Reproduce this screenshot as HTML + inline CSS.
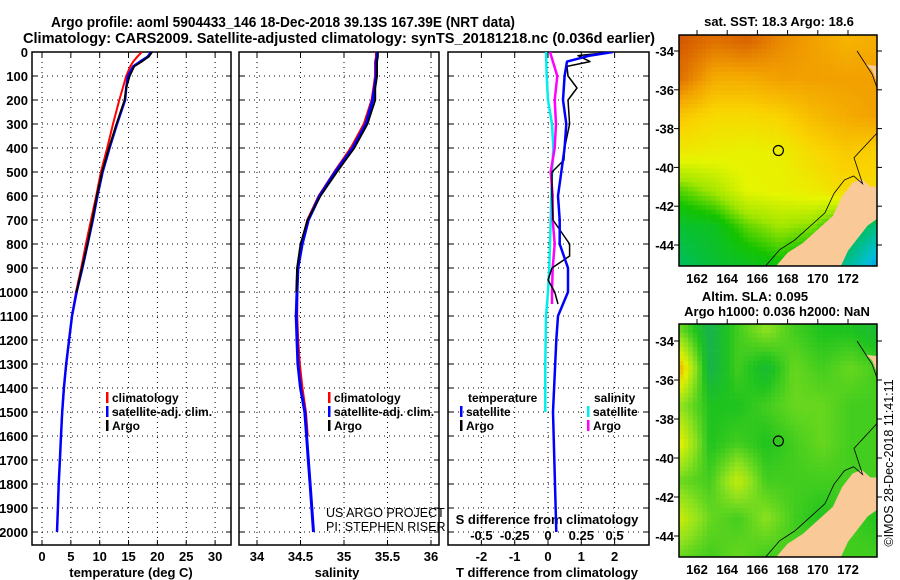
<!DOCTYPE html>
<html><head><meta charset="utf-8"><style>
html,body{margin:0;padding:0;background:#fff}
svg{display:block;font-family:"Liberation Sans",sans-serif;font-weight:bold}
</style></head><body>
<svg id="c" width="900" height="580" viewBox="0 0 900 580" xmlns="http://www.w3.org/2000/svg">
<defs>
<clipPath id="cp1"><rect x="32" y="52" width="199" height="493"/></clipPath>
<clipPath id="cp2"><rect x="239" y="52" width="200" height="493"/></clipPath>
<clipPath id="cp3"><rect x="448" y="52" width="201" height="493"/></clipPath>
<clipPath id="cm1"><rect x="679" y="35" width="198" height="231"/></clipPath>
<clipPath id="cm2"><rect x="679" y="324" width="198" height="233"/></clipPath>
</defs>
<text x="51" y="27" font-size="15" textLength="464" lengthAdjust="spacingAndGlyphs">Argo profile: aoml 5904433_146 18-Dec-2018 39.13S 167.39E (NRT data)</text>
<text x="23" y="43" font-size="15" textLength="632" lengthAdjust="spacingAndGlyphs">Climatology: CARS2009. Satellite-adjusted climatology: synTS_20181218.nc (0.036d earlier)</text>
<g id="g"></g>
</svg>
<script>
// ---------- data ----------
const depthT = [0,20,40,60,100,150,200,300,400,500,600,700,800,900,1000,1100,1200,1300,1400,1500,1600,1700,1800,1900,2000];
const tempClim = [17.3,16.5,15.8,15.3,14.6,14.0,13.4,12.3,11.3,10.2,9.4,8.5,7.6,6.8,5.9,5.2,4.7,4.2,3.8,3.5,3.3];
const tempSat = [18.9,18.3,17.0,15.8,14.9,14.6,14.4,13.0,11.7,10.5,9.6,8.8,7.9,7.0,6.0,5.2,4.7,4.2,3.8,3.5,3.3,3.1,2.9,2.75,2.6];
const tempArgo = [19.1,18.5,17.3,16.0,15.2,14.6,14.3,12.9,11.6,10.4,9.5,8.7,7.9,6.9,6.0];
const salClim = [35.37,35.37,35.36,35.36,35.36,35.34,35.32,35.23,35.08,34.89,34.71,34.58,34.51,34.47,34.46,34.46,34.47,34.49,34.52,34.56,34.58];
const salSat = [35.38,35.38,35.37,35.37,35.37,35.35,35.33,35.25,35.1,34.9,34.72,34.59,34.52,34.47,34.46,34.45,34.46,34.47,34.5,34.55,34.57,34.59,34.61,34.63,34.65];
const salArgo = [35.39,35.39,35.38,35.38,35.38,35.36,35.36,35.27,35.12,34.92,34.73,34.58,34.5,34.46,34.45];
const depthDT = [0,15,40,60,100,150,200,300,400,450,500,600,700,800,850,900,950,1000,1050];
const dTArgo = [1.95,0.9,1.26,0.57,0.6,0.87,0.6,0.65,0.5,0.48,0.12,0.12,0.15,0.65,0.65,0.12,0,0.2,0.3];
const depthDTS = [0,15,40,100,200,300,400,500,600,700,800,900,1000,1100,1200,1500,2000];
const dTSat = [1.95,1.26,0.57,0.5,0.45,0.55,0.5,0.4,0.3,0.35,0.35,0.6,0.6,0.3,0.25,0.15,0.25];
const depthDS = [0,100,200,300,400,500,600,700,800,900,1000,1050];
const dSArgo = [0.015,0.07,0.05,0.06,0.05,0.02,0.035,0.035,0.05,0.035,0.03,0.03];
const depthDSS = [0,100,200,300,400,500,600,700,800,900,1000,1100,1300,1500];
const dSSat = [-0.015,-0.01,0,0.03,0.04,0.03,0.025,0.02,0.015,0.01,0,-0.015,-0.02,-0.02];
const depthTicks = [0,100,200,300,400,500,600,700,800,900,1000,1100,1200,1300,1400,1500,1600,1700,1800,1900,2000];
const tTicks = [0,5,10,15,20,25,30];
const sTicks = [34,34.5,35,35.5,36];
const dTTicks = [-2,-1,0,1,2];
const dSTicks = [-0.5,-0.25,0,0.25,0.5];
const lonTicks = [162,164,166,168,170,172];
const latTicks = [-34,-36,-38,-40,-42,-44];
const sstGrid = [
 [.9,.85,.88,.8,.75,.7,.72],
 [.85,.72,.72,.75,.75,.75,.75],
 [.65,.6,.6,.62,.68,.72,.75],
 [.55,.54,.53,.54,.6,.64,.62],
 [.4,.45,.52,.53,.55,.6,.6],
 [.3,.32,.4,.44,.42,.3,.2],
 [.25,.3,.32,.35,.3,.2,.08]];
const slaGrid = [
 [.55,.35,.5,.6,.5,.45,.45,.4],
 [.85,.35,.5,.4,.55,.5,.55,.5],
 [.6,.45,.45,.5,.55,.55,.5,.5],
 [.75,.45,.5,.45,.5,.55,.5,.5],
 [.55,.5,.7,.5,.5,.5,.5,.5],
 [.7,.55,.5,.6,.5,.45,.5,.45],
 [.55,.5,.55,.5,.5,.5,.5,.5]];
const landLon = [167.0,168,169,170,171,171.6,172.3,172.9,173.5,174.2,174.2,173.3,172.5,172,171.4];
const landLat = [-45.3,-44.4,-43.9,-43.2,-42.5,-41.5,-40.8,-40.6,-41,-41,-42.5,-43,-43.8,-44.3,-45.3];
const nLandLon = [173.2,173.6,173.9,174.2,174.2];
const nLandLat = [-34.7,-35.0,-35.6,-36.2,-34.8];
const floatLon = 167.39, floatLat = -39.13;

// ---------- helpers ----------
const NS='http://www.w3.org/2000/svg';
const G=document.getElementById('g');
function mk(tag,attrs,parent){const e=document.createElementNS(NS,tag);for(const k in attrs)e.setAttribute(k,attrs[k]);(parent||G).appendChild(e);return e;}
function txt(s,x,y,size,anchor,parent){const e=mk('text',{x:x,y:y,'font-size':size,'text-anchor':anchor||'start'},parent);e.textContent=s;return e;}
const Y0=52, PY=0.24;
const yD=d=>Y0+d*PY;
const xT=v=>42+v*5.77;
const xS=v=>257+(v-34)*87;
const xDT=v=>548+v*33.3;
const xDS=v=>548+v*133.2;

function panel(x0,w,name,xf,ticks,clip){
  const g=mk('g',{});
  
  
  ticks.forEach(t=>{const l=mk('line',{x1:xf(t),x2:xf(t),y1:52,y2:545,stroke:'#000','stroke-width':1,'stroke-dasharray':'1,4'},g);
    
    mk('line',{x1:xf(t),x2:xf(t),y1:545,y2:540,stroke:'#000'},g);mk('line',{x1:xf(t),x2:xf(t),y1:52,y2:57,stroke:'#000'},g);});
  depthTicks.forEach(d=>{const l=mk('line',{x1:x0,x2:x0+w,y1:yD(d),y2:yD(d),stroke:'#000','stroke-width':1,'stroke-dasharray':'1,4'},g);
    
    mk('line',{x1:x0,x2:x0+5,y1:yD(d),y2:yD(d),stroke:'#000'},g);mk('line',{x1:x0+w-5,x2:x0+w,y1:yD(d),y2:yD(d),stroke:'#000'},g);});
  const r=mk('rect',{x:x0,y:52,width:w,height:493,fill:'none',stroke:'#000','stroke-width':1.5},g);
  
  return g;
}
function line(vals,depths,xf,color,width,clip,name){
  const pts=vals.map((v,i)=>xf(v).toFixed(1)+','+yD(depths[i]).toFixed(1)).join(' ');
  const p=mk('polyline',{points:pts,fill:'none',stroke:color,'stroke-width':width,'clip-path':'url(#'+clip+')','stroke-linejoin':'round'});
  
  
}
function legendEntry(x,y,color,label,name){
  const g=mk('g',{});
  
  
  mk('rect',{x:x,y:y-10,width:2.5,height:11,fill:color},g);
  txt(label,x+6,y,12,'start',g);
}

depthTicks.forEach(d=>{const t=txt(String(d),28,yD(d)+5,13,'end');});

// panel 1
panel(32,199,'temperature-panel',xT,tTicks,'cp1');
tTicks.forEach(t=>{const e=txt(String(t),xT(t),561,13,'middle');});
{const e=txt('temperature (deg C)',131,577,13,'middle');}
line(tempClim,depthT,xT,'#ff0000',2,'cp1','temp-climatology-line');
line(tempSat,depthT,xT,'#0000ff',2.5,'cp1','temp-satellite-line');
line(tempArgo,depthT,xT,'#000000',1.8,'cp1','temp-argo-line');
legendEntry(106,402,'#ff0000','climatology','temp-legend-climatology');
legendEntry(106,416,'#0000ff','satellite-adj. clim.','temp-legend-satellite');
legendEntry(106,430,'#000000','Argo','temp-legend-argo');

// panel 2
panel(239,200,'salinity-panel',xS,sTicks,'cp2');
sTicks.forEach(t=>{const e=txt(String(t),xS(t),561,13,'middle');});
{const e=txt('salinity',337,577,13,'middle');}
line(salClim,depthT,xS,'#ff0000',2.5,'cp2','sal-climatology-line');
line(salSat,depthT,xS,'#0000ff',3,'cp2','sal-satellite-line');
line(salArgo,depthT,xS,'#000000',1.8,'cp2','sal-argo-line');
legendEntry(328,402,'#ff0000','climatology','sal-legend-climatology');
legendEntry(328,416,'#0000ff','satellite-adj. clim.','sal-legend-satellite');
legendEntry(328,430,'#000000','Argo','sal-legend-argo');
{const a=txt('US ARGO PROJECT',326,517,12.5,'start');a.setAttribute('font-weight','normal');
 const b=txt('PI: STEPHEN RISER',326,531,12.5,'start');b.setAttribute('font-weight','normal');}

// panel 3
panel(448,201,'difference-panel',xDT,dTTicks,'cp3');
dTTicks.forEach(t=>{const e=txt(String(t),xDT(t),561,13,'middle');});
dSTicks.forEach(t=>{const e=txt(String(t),xDS(t),540,13,'middle');});
{const e=txt('S difference from climatology',547,524,13,'middle');}
{const e=txt('T difference from climatology',547,577,13,'middle');}
line(dSSat,depthDSS,xDS,'#00eeee',2.5,'cp3','s-diff-satellite-line');
line(dSArgo,depthDS,xDS,'#ff00ff',2.5,'cp3','s-diff-argo-line');
line(dTArgo,depthDT,xDT,'#000000',1.5,'cp3','t-diff-argo-line');
line(dTSat,depthDTS,xDT,'#0000ff',2.5,'cp3','t-diff-satellite-line');
{const e=txt('temperature',468,402,12,'start');}
legendEntry(460,416,'#0000ff','satellite','t-diff-legend-satellite');
legendEntry(460,430,'#000000','Argo','t-diff-legend-argo');
{const e=txt('salinity',594,402,12,'start');}
legendEntry(587,416,'#00eeee','satellite','s-diff-legend-satellite');
legendEntry(587,430,'#ff00ff','Argo','s-diff-legend-argo');

// ---------- maps ----------
function cmap(v,stops){
  for(let i=1;i<stops.length;i++){if(v<=stops[i][0]){const a=stops[i-1],b=stops[i];const f=(v-a[0])/(b[0]-a[0]);
    const c=a[1].map((x,k)=>Math.round(x+(b[1][k]-x)*f));return 'rgb('+c.join(',')+')';}}
  return 'rgb('+stops[stops.length-1][1].join(',')+')';
}
const sstStops=[[0,[0,70,230]],[0.12,[0,190,220]],[0.25,[0,190,90]],[0.36,[20,195,0]],[0.44,[160,230,0]],[0.52,[230,245,0]],[0.62,[250,210,0]],[0.75,[242,160,0]],[0.88,[218,100,0]],[1,[175,30,0]]];
const slaStops=[[0,[0,150,140]],[0.3,[20,170,100]],[0.45,[30,195,30]],[0.6,[140,225,30]],[0.75,[225,240,0]],[0.9,[240,165,0]],[1,[235,120,0]]];
function bil(grid,fx,fy){const R=grid.length-1,C=grid[0].length-1;fx=Math.max(0,Math.min(C,fx));fy=Math.max(0,Math.min(R,fy));
  const i=Math.min(R-1,Math.floor(fy)),j=Math.min(C-1,Math.floor(fx));const u=fx-j,v=fy-i;
  return grid[i][j]*(1-u)*(1-v)+grid[i][j+1]*u*(1-v)+grid[i+1][j]*(1-u)*v+grid[i+1][j+1]*u*v;}
function drawMap(name,top,bot,latTop,pxLat,grid,stops,clip,lonLabelY){
  const mxf=lon=>697+(lon-162)*15.1;
  const myf=lat=>latTop+(-34-lat)*pxLat;
  const g=mk('g',{'clip-path':'url(#'+clip+')'});
  
  
  const cell=4.6;
  for(let y=top;y<bot;y+=cell){for(let x=679;x<877;x+=cell){
    const lon=162+(x+cell/2-697)/15.1, lat=-34-(y+cell/2-latTop)/pxLat;
    const fx=(lon-161)/13*(grid[0].length-1), fy=(-33.5-lat)/11.5*(grid.length-1);
    mk('rect',{x:x.toFixed(1),y:y.toFixed(1),width:cell+0.3,height:cell+0.3,fill:cmap(bil(grid,fx,fy),stops)},g);
  }}
  const lp=mk('polygon',{points:landLon.map((l,i)=>mxf(l).toFixed(1)+','+myf(landLat[i]).toFixed(1)).join(' '),fill:'#f9c998',stroke:'none'},g);
  
  const np=mk('polygon',{points:nLandLon.map((l,i)=>mxf(l).toFixed(1)+','+myf(nLandLat[i]).toFixed(1)).join(' '),fill:'#f9c998',stroke:'none'},g);
  
  const cl=mk('polyline',{points:landLon.slice(0,9).map((l,i)=>(mxf(l)-8).toFixed(1)+','+(myf(landLat[i])-3).toFixed(1)).join(' ')+' '+mxf(172.4).toFixed(1)+','+myf(-39.5).toFixed(1)+' '+mxf(174.2).toFixed(1)+','+myf(-38).toFixed(1),fill:'none',stroke:'#000','stroke-width':0.8},g);
  
  const cl2=mk('polyline',{points:mxf(172.6)+','+myf(-34)+' '+mxf(173.6)+','+myf(-35.2)+' '+mxf(174.2)+','+myf(-36.5),fill:'none',stroke:'#000','stroke-width':0.8},g);
  
  const c=mk('circle',{cx:mxf(floatLon),cy:myf(floatLat),r:5,fill:'none',stroke:'#000','stroke-width':1.2});
  
  const fr=mk('rect',{x:679,y:top,width:198,height:bot-top,fill:'none',stroke:'#000','stroke-width':1.5});
  
  lonTicks.forEach(l=>{mk('line',{x1:mxf(l),x2:mxf(l),y1:top,y2:top-5,stroke:'#000'});
    const e=txt(String(l),mxf(l),lonLabelY,13,'middle');});
  latTicks.forEach(l=>{mk('line',{x1:877,x2:882,y1:myf(l),y2:myf(l),stroke:'#000'});mk('line',{x1:679,x2:674,y1:myf(l),y2:myf(l),stroke:'#000'});
    const e=txt(String(l),674,myf(l)+5,13,'end');});
}
drawMap('sst-map',35,266,51,19.4,sstGrid,sstStops,'cm1',283);
drawMap('sla-map',324,557,341,19.5,slaGrid,slaStops,'cm2',574);
{const e=txt('sat. SST: 18.3 Argo: 18.6',779,26,13,'middle');}
{const e=txt('Altim. SLA: 0.095',755,301,13,'middle');}
{const e=txt('Argo h1000: 0.036 h2000: NaN',777,316,13,'middle');}
{const e=txt('©IMOS 28-Dec-2018 11:41:11',0,0,12.5,'middle');e.setAttribute('font-weight','normal');e.setAttribute('transform','translate(893,463) rotate(-90)');}
</script>
</body></html>
